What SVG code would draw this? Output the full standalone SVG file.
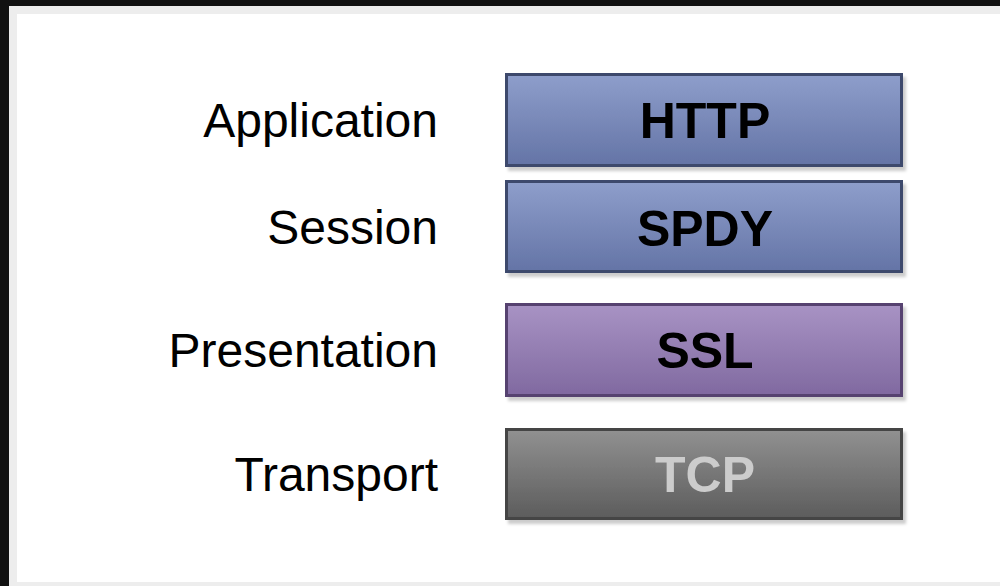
<svg xmlns="http://www.w3.org/2000/svg" width="1000" height="586" viewBox="0 0 1000 586">
<defs>
<style>
.lbl{font-family:"Liberation Sans",Arial,sans-serif;font-size:48px;fill:#000;text-anchor:end}
.box{font-family:"Liberation Sans",Arial,sans-serif;font-size:50px;font-weight:bold;text-anchor:middle}
</style>
<linearGradient id="gBlue" x1="0" y1="0" x2="0" y2="1"><stop offset="0" stop-color="#8e9ecb"/><stop offset="1" stop-color="#6474a6"/></linearGradient>
<linearGradient id="gPurple" x1="0" y1="0" x2="0" y2="1"><stop offset="0" stop-color="#a893c4"/><stop offset="1" stop-color="#8069a0"/></linearGradient>
<linearGradient id="gGray" x1="0" y1="0" x2="0" y2="1"><stop offset="0" stop-color="#919191"/><stop offset="1" stop-color="#5c5c5c"/></linearGradient>
<filter id="sh" x="-5%" y="-10%" width="115%" height="130%"><feDropShadow dx="3" dy="4" stdDeviation="1.5" flood-color="#000" flood-opacity="0.2"/></filter>
</defs>
<rect x="0" y="0" width="1000" height="586" fill="#111111"/>
<rect x="9" y="6" width="991" height="580" fill="#ededed"/>
<rect x="17" y="14" width="983" height="568" fill="#ffffff"/>
<g id="labels">
<text class="lbl" x="438" y="137">Application</text>
<text class="lbl" x="438" y="244">Session</text>
<text class="lbl" x="438" y="367">Presentation</text>
<text class="lbl" x="438" y="491">Transport</text>
</g>
<g id="connectors"></g>
<g id="http">
<rect x="506.5" y="74.5" width="395" height="91" fill="url(#gBlue)" stroke="#3e4a6c" stroke-width="3" filter="url(#sh)"/>
<text class="box" x="705" y="138" fill="#000">HTTP</text>
</g>
<g id="spdy">
<rect x="506.5" y="181.5" width="395" height="90" fill="url(#gBlue)" stroke="#3e4a6c" stroke-width="3" filter="url(#sh)"/>
<text class="box" x="705" y="246" fill="#000">SPDY</text>
</g>
<g id="ssl">
<rect x="506.5" y="304.5" width="395" height="91" fill="url(#gPurple)" stroke="#574370" stroke-width="3" filter="url(#sh)"/>
<text class="box" x="705" y="368" fill="#000">SSL</text>
</g>
<g id="tcp">
<rect x="506.5" y="429.5" width="395" height="89" fill="url(#gGray)" stroke="#444444" stroke-width="3" filter="url(#sh)"/>
<text class="box" x="705" y="492" fill="#cccccc">TCP</text>
</g>
</svg>
